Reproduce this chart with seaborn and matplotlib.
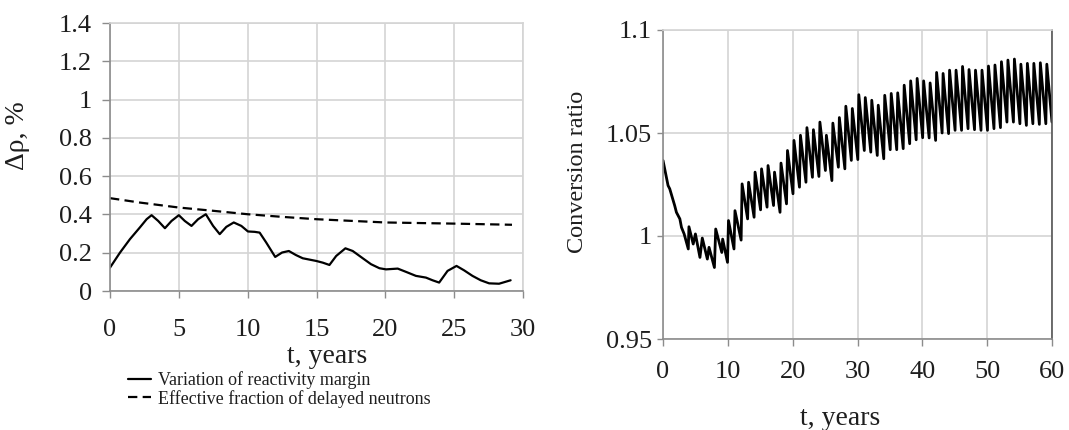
import numpy as np
import pandas as pd
import matplotlib
matplotlib.use("Agg")
import matplotlib.pyplot as plt
import seaborn as sns

# ---------------- data: left chart ----------------
margin_t = [0.0, 0.73, 1.45, 2.17, 2.66, 3.02, 3.50, 3.99, 4.47, 5.0, 5.43, 5.92, 6.40, 6.96,
            7.49, 7.97, 8.45, 8.99, 9.54, 10.02, 10.51, 10.87, 11.35, 12.0, 12.5, 12.99, 13.5,
            14.0, 14.49, 14.98, 15.46, 15.94, 16.43, 17.1, 17.63, 18.36, 18.96, 19.57, 20.05,
            20.9, 21.5, 22.22, 22.95, 23.43, 23.91, 24.52, 25.17, 25.72, 26.33, 26.93, 27.54,
            28.26, 29.1]
margin_v = [0.122, 0.201, 0.271, 0.332, 0.375, 0.396, 0.366, 0.328, 0.366, 0.396, 0.366, 0.340,
            0.375, 0.401, 0.340, 0.297, 0.335, 0.358, 0.340, 0.311, 0.309, 0.305, 0.253, 0.178,
            0.201, 0.209, 0.188, 0.171, 0.164, 0.157, 0.148, 0.136, 0.183, 0.223, 0.209, 0.171,
            0.140, 0.119, 0.113, 0.117, 0.100, 0.079, 0.070, 0.056, 0.044, 0.105, 0.131, 0.108,
            0.079, 0.056, 0.040, 0.038, 0.056]
beta_t = [0.0, 2.17, 5.0, 7.49, 10.0, 12.56, 15.0, 17.63, 20.0, 25.0, 29.2]
beta_v = [0.485, 0.462, 0.436, 0.419, 0.401, 0.387, 0.375, 0.366, 0.358, 0.352, 0.346]

left_yticks = [0, 0.2, 0.4, 0.6, 0.8, 1.0, 1.2, 1.4]
left_yticklabels = ["0", "0.2", "0.4", "0.6", "0.8", "1", "1.2", "1.4"]
left_xticks = [0, 5, 10, 15, 20, 25, 30]

# ---------------- data: right chart ----------------
cr_early_t = [0.0, 0.78, 1.04, 1.8, 2.07, 2.6, 2.85, 3.26, 3.9, 4.0, 4.66, 5.0, 5.7, 6.06,
              6.84, 7.1, 7.93, 8.13, 9.07, 9.2]
cr_early_v = [1.0367, 1.0245, 1.0229, 1.0148, 1.0115, 1.0083, 1.0042, 1.0010, 0.9937, 1.0045,
              0.9961, 1.0010, 0.9896, 0.9990, 0.9888, 0.9945, 0.9847, 1.0034, 0.9920, 0.9985]
cr_peak_t = [10.1, 11.1, 12.2, 13.2, 14.2, 15.2, 16.2, 17.2, 18.2, 19.2, 20.2, 21.2, 22.2,
             23.2, 24.2, 25.2, 26.2, 27.2, 28.2, 29.2, 30.2, 31.2, 32.2, 33.2, 34.2, 35.2,
             36.2, 37.2, 38.2, 39.2, 40.2, 41.2, 42.2, 43.2, 44.2, 45.2, 46.2, 47.2, 48.2,
             49.2, 50.2, 51.2, 52.2, 53.2, 54.2, 55.2, 56.2, 57.2, 58.2, 59.2]
cr_peak_v = [1.0075, 1.0123, 1.0253, 1.0261, 1.0310, 1.0326, 1.0342, 1.0310, 1.0354, 1.0415,
             1.0464, 1.0489, 1.0526, 1.0516, 1.0553, 1.0489, 1.0548, 1.0575, 1.0630, 1.0619,
             1.0686, 1.0672, 1.0659, 1.0635, 1.0683, 1.0692, 1.0695, 1.0732, 1.0753, 1.0765,
             1.0753, 1.0743, 1.0794, 1.0789, 1.0805, 1.0805, 1.0823, 1.0808, 1.0805, 1.0805,
             1.0825, 1.0830, 1.0846, 1.0854, 1.0859, 1.0834, 1.0838, 1.0838, 1.0841, 1.0834]
cr_trough_v = [0.9872, 0.9937, 0.9980, 1.0083, 1.0091, 1.0127, 1.0140, 1.0148, 1.0115, 1.0156,
               1.0205, 1.0237, 1.0261, 1.0285, 1.0289, 1.0318, 1.0269, 1.0334, 1.0326, 1.0367,
               1.0371, 1.0415, 1.0407, 1.0391, 1.0375, 1.0419, 1.0419, 1.0424, 1.0448, 1.0467,
               1.0477, 1.0476, 1.0464, 1.0500, 1.0497, 1.0513, 1.0513, 1.0521, 1.0516, 1.0513,
               1.0513, 1.0521, 1.0526, 1.0553, 1.0553, 1.0545, 1.0537, 1.0545, 1.0542, 1.0545]
cr_end_t = [60.0]
cr_end_v = [1.0553]

right_yticks = [0.95, 1.0, 1.05, 1.1]
right_yticklabels = ["0.95", "1", "1.05", "1.1"]
right_xticks = [0, 10, 20, 30, 40, 50, 60]

# build the conversion ratio polyline (trough just before each jump)
cr_t, cr_v = list(cr_early_t), list(cr_early_v)
for pt, pv, tv in zip(cr_peak_t, cr_peak_v, cr_trough_v):
    cr_t += [pt - 0.15, pt]
    cr_v += [tv, pv]
cr_t += cr_end_t
cr_v += cr_end_v

df_margin = pd.DataFrame({"t": margin_t, "v": margin_v})
df_beta = pd.DataFrame({"t": beta_t, "v": beta_v})
df_cr = pd.DataFrame({"t": cr_t, "v": cr_v})

# ---------------- style ----------------
sns.set_theme(style="white")
plt.rcParams["font.family"] = ["Liberation Serif", "DejaVu Serif"]
plt.rcParams["mathtext.fontset"] = "stix"

GRID = "#d4d4d4"
SPINE = "#8c8c8c"
TXT = "#1e1e1e"

W, H = 1069, 430
fig = plt.figure(figsize=(W / 100, H / 100), dpi=100)

def frac_box(x0, x1, ytop, ybot):
    return [x0 / W, (H - ybot) / H, (x1 - x0) / W, (ybot - ytop) / H]

axL = fig.add_axes(frac_box(110, 523, 23, 291))
axR = fig.add_axes(frac_box(663, 1052, 30, 339))

# left chart
sns.lineplot(data=df_margin, x="t", y="v", ax=axL, color="black", lw=1.6,
             estimator=None, sort=False, label="Variation of reactivity margin")
sns.lineplot(data=df_beta, x="t", y="v", ax=axL, color="black", lw=1.6,
             estimator=None, sort=False, label="Effective fraction of delayed neutrons")
axL.lines[1].set_linestyle((0, (4.2, 2.4)))
axL.set_xlim(0, 30)
axL.set_ylim(0, 1.4)
axL.set_xticks(left_xticks)
axL.set_xticklabels([str(v) for v in left_xticks])
axL.set_yticks(left_yticks)
axL.set_yticklabels(left_yticklabels)

# right chart
sns.lineplot(data=df_cr, x="t", y="v", ax=axR, color="black", lw=2.0,
             estimator=None, sort=False)
axR.set_xlim(0, 60)
axR.set_ylim(0.95, 1.1)
axR.set_xticks(right_xticks)
axR.set_xticklabels([str(v) for v in right_xticks])
axR.set_yticks(right_yticks)
axR.set_yticklabels(right_yticklabels)

for ax in (axL, axR):
    ax.grid(True, color=GRID, lw=1.2)
    ax.set_axisbelow(True)
    for s in ("left", "bottom"):
        ax.spines[s].set_color(SPINE)
        ax.spines[s].set_linewidth(1.2)
    for s in ("top", "right"):
        ax.spines[s].set_color(GRID)
        ax.spines[s].set_linewidth(1.2)

axR.spines["right"].set_color("#555555")

axL.tick_params(axis="y", direction="out", length=6, width=1, color=SPINE,
                pad=7, labelsize=19, labelcolor=TXT, left=True)
axL.tick_params(axis="x", direction="out", length=5, width=1, color=SPINE,
                pad=15, labelsize=19, labelcolor=TXT, bottom=True)
axR.tick_params(axis="y", direction="out", length=4.5, width=1, color=SPINE,
                pad=3.6, labelsize=19, labelcolor=TXT, left=True)
axR.tick_params(axis="x", direction="out", length=5, width=1, color=SPINE,
                pad=11, labelsize=19, labelcolor=TXT, bottom=True)

axL.set_ylabel("Δρ, %", fontsize=20, color=TXT, va="center")
axL.yaxis.set_label_coords(-0.223, 0.58)
axL.set_xlabel("t, years", fontsize=20, color=TXT, va="center")
axL.xaxis.set_label_coords(0.525, -0.243)

axR.set_ylabel("Conversion ratio", fontsize=17.5, color=TXT, va="center")
axR.yaxis.set_label_coords(-0.219, 0.54)
axR.set_xlabel("t, years", fontsize=20, color=TXT, va="center")
axR.xaxis.set_label_coords(0.455, -0.258)

# legend under left chart
handles, labels = axL.get_legend_handles_labels()
if axL.legend_ is not None:
    axL.legend_.remove()
fig.legend(handles, labels, loc="upper left", bbox_to_anchor=(128 / W, (H - 371) / H),
           frameon=False, fontsize=13, handlelength=1.3, handletextpad=0.35,
           labelspacing=0.05, borderpad=0, borderaxespad=0, labelcolor=TXT)

fig.savefig("out.png", dpi=100)
